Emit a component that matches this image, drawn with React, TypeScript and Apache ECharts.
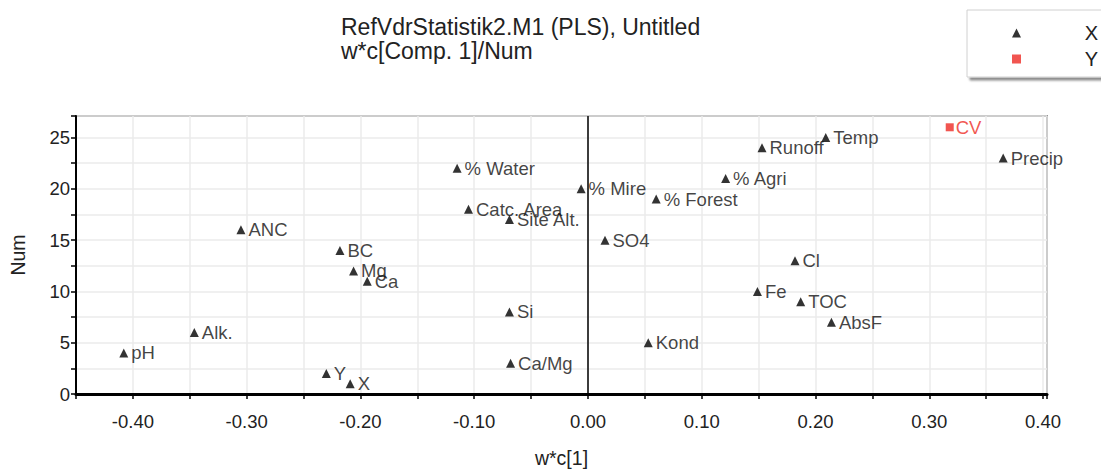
import React, { useEffect, useRef } from "react";
import * as echarts from "echarts";

// Loadings of the X variables: w*c[1] against the variable number
const xNames = [
  "X", "Y", "Ca/Mg", "pH", "Kond", "Alk.", "AbsF", "Si", "TOC", "Fe", "Ca", "Mg", "Cl",
  "BC", "SO4", "ANC", "Site Alt.", "Catc. Area", "% Forest", "% Mire", "% Agri",
  "% Water", "Precip", "Runoff", "Temp",
];
const xWc = [
  -0.209, -0.23, -0.068, -0.408, 0.053, -0.346, 0.214, -0.069, 0.187, 0.149, -0.194,
  -0.206, 0.182, -0.218, 0.015, -0.305, -0.069, -0.105, 0.06, -0.006, 0.121, -0.115,
  0.365, 0.153, 0.209,
];
const xNum = [
  1, 2, 3, 4, 5, 6, 7, 8, 9, 10, 11, 12, 13, 14, 15, 16, 17, 18, 19, 20, 21, 22, 23, 24, 25,
];

// Loading of the Y variable
const yNames = ["CV"];
const yWc = [0.318];
const yNum = [26];

const FONT = "'Liberation Sans', Arial, sans-serif";
const RED = "#ee2b24";

export default function App() {
  const ref = useRef<HTMLDivElement>(null);

  useEffect(() => {
    if (!ref.current) return;
    const chart = echarts.init(ref.current, null, { renderer: "svg" });

    const xData = xNames.map((n, i) => ({ name: n, value: [xWc[i], xNum[i]] }));
    const yData = yNames.map((n, i) => ({ name: n, value: [yWc[i], yNum[i]] }));

    chart.setOption({
      animation: false,
      backgroundColor: "#ffffff",
      textStyle: { fontFamily: FONT },
      title: {
        text: "RefVdrStatistik2.M1 (PLS), Untitled\nw*c[Comp. 1]/Num",
        left: 341,
        top: 15,
        padding: 0,
        textStyle: {
          fontFamily: FONT,
          fontSize: 23,
          fontWeight: "normal",
          color: "#222",
          lineHeight: 24,
        },
      },
      legend: {
        orient: "vertical",
        left: 967,
        top: 10,
        padding: [13, 8, 8, 45],
        itemWidth: 9,
        itemHeight: 9,
        itemGap: 6,
        backgroundColor: "#ffffff",
        borderColor: "#d0d0d0",
        borderWidth: 1,
        shadowColor: "rgba(0,0,0,0.45)",
        shadowOffsetX: 3,
        shadowOffsetY: 3,
        shadowBlur: 2,
        data: ["X", "Y"],
        formatter: (name: string) => `{n|${name}}`,
        textStyle: {
          fontFamily: FONT,
          fontSize: 20,
          color: "#222",
          rich: {
            n: {
              fontFamily: FONT,
              fontSize: 20,
              color: "#222",
              width: 72,
              height: 20,
              lineHeight: 20,
              align: "right",
            },
          },
        },
      },
      grid: {
        left: 66,
        right: 62,
        top: 116,
        bottom: 73,
        show: true,
        borderColor: "#444",
        borderWidth: 1.5,
        backgroundColor: "#ffffff",
      },
      xAxis: {
        type: "value",
        min: -0.45,
        max: 0.4035,
        interval: 0.05,
        name: "w*c[1]",
        nameLocation: "middle",
        nameGap: 54,
        nameTextStyle: { fontFamily: FONT, fontSize: 19.5, color: "#222" },
        axisLine: { show: true, onZero: false, lineStyle: { color: "#000", width: 3 } },
        axisTick: { show: true, length: 5, lineStyle: { color: "#000", width: 1.5 } },
        axisLabel: {
          margin: 18,
          fontFamily: FONT,
          fontSize: 18.5,
          color: "#222",
          formatter: (v: number) => {
            const k = Math.round(v * 100);
            if (Math.abs(v * 100 - k) > 1e-6 || k % 10 !== 0) return "";
            return (k / 100).toFixed(2);
          },
        },
        splitLine: { show: true, lineStyle: { color: "#ebebeb", width: 1.5 } },
      },
      yAxis: {
        type: "value",
        min: 0,
        max: 27.1,
        interval: 2.5,
        name: "Num",
        nameLocation: "middle",
        nameGap: 48,
        nameTextStyle: { fontFamily: FONT, fontSize: 19.5, color: "#222" },
        axisLine: { show: true, onZero: false, lineStyle: { color: "#000", width: 2 } },
        axisTick: { show: true, length: 5, lineStyle: { color: "#000", width: 1.5 } },
        axisLabel: {
          margin: 6,
          fontFamily: FONT,
          fontSize: 18.5,
          color: "#222",
          formatter: (v: number) => {
            const k = Math.round(v * 10);
            if (Math.abs(v * 10 - k) > 1e-6 || k % 50 !== 0) return "";
            return String(k / 10);
          },
        },
        splitLine: { show: true, lineStyle: { color: "#ebebeb", width: 1.5 } },
      },
      series: [
        {
          name: "X",
          type: "scatter",
          symbol: "triangle",
          symbolSize: 9,
          itemStyle: { color: "#000" },
          data: xData,
          label: {
            show: true,
            position: "right",
            distance: 3,
            formatter: "{b}",
            fontFamily: FONT,
            fontSize: 18.5,
            color: "#111",
          },
          markLine: {
            silent: true,
            symbol: "none",
            label: { show: false },
            lineStyle: { color: "#000", width: 1.5, type: "solid" },
            data: [{ xAxis: 0 }],
          },
          z: 3,
        },
        {
          name: "Y",
          type: "scatter",
          symbol: "rect",
          symbolSize: 8,
          itemStyle: { color: RED },
          data: yData,
          label: {
            show: true,
            position: "right",
            distance: 2,
            formatter: "{b}",
            fontFamily: FONT,
            fontSize: 18.5,
            color: RED,
          },
          z: 3,
        },
      ],
    });

    return () => chart.dispose();
  }, []);

  return <div ref={ref} style={{ width: 1109, height: 473, marginLeft: -8, marginTop: -8 }} />;
}
